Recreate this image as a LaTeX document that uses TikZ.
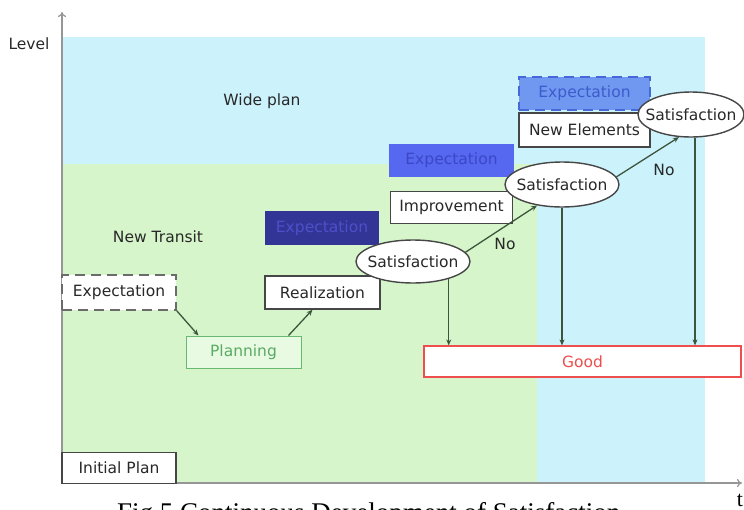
\documentclass[tikz,border=0pt]{standalone}
\usepackage{fontspec}
\setmainfont{DejaVu Sans}
\newfontfamily\capfont{Liberation Serif}
\usetikzlibrary{shapes.geometric,arrows.meta}

\definecolor{wideblue}{RGB}{204,242,252}
\definecolor{transgreen}{RGB}{214,245,202}
\definecolor{txtgray}{RGB}{40,40,40}
\definecolor{boxgray}{RGB}{70,70,70}
\definecolor{axisgray}{RGB}{150,150,150}
\definecolor{linkgreen}{RGB}{60,85,60}
\definecolor{navyfill}{RGB}{50,52,150}
\definecolor{navytext}{RGB}{78,80,200}
\definecolor{bluefill}{RGB}{86,104,240}
\definecolor{bluetext}{RGB}{58,72,200}
\definecolor{skyfill}{RGB}{112,152,240}
\definecolor{skytext}{RGB}{60,92,205}
\definecolor{skyline}{RGB}{70,105,215}
\definecolor{planline}{RGB}{105,185,115}
\definecolor{plantext}{RGB}{90,170,100}
\definecolor{goodred}{RGB}{238,78,78}

\tikzset{
  lbl/.style={font=\fontsize{15.5}{18}\selectfont, text=txtgray},
  box/.style={lbl, draw=boxgray, fill=white, line width=1.4pt, inner sep=0pt},
  dashbox/.style={box, dash pattern=on 10pt off 6pt},
  satis/.style={lbl, ellipse, draw=boxgray, fill=white, line width=1.4pt,
    inner xsep=-12pt, inner ysep=4pt},
  link/.style={draw=linkgreen, line width=1.3pt, -{Stealth[length=6pt,width=5pt]}},
  axis/.style={draw=axisgray, line width=1.2pt, -{To[length=5pt,width=8pt]}}
}

\begin{document}
\begin{tikzpicture}[x=1pt, y=-1pt]
  \useasboundingbox (0,0) rectangle (744,509);
  % --- regions ---
  \fill[wideblue] (62,37) rectangle (705,483);
  \fill[transgreen] (62,164) rectangle (537,483);
  \node[lbl] (wide) at (262,101) {Wide plan};
  \node[lbl] (transit) at (158,237) {New Transit};
  % --- axes ---
  \coordinate (o) at (62,483);
  \coordinate (ytop) at (62,12);
  \coordinate (xend) at (742,483);
  \draw[axis] (o) -- (ytop);
  \draw[axis] (o) -- (xend);
  \node[lbl] (level) at (29,44) {Level};
  \node[font=\capfont\fontsize{22}{24}\selectfont, anchor=north, inner sep=0pt] (tlab) at (740,494) {t};
  % --- first step ---
  \node[dashbox, draw=boxgray!80, minimum width=114pt, minimum height=35pt] (exp0) at (119,292.5) {Expectation};
  \node[box, draw=planline, fill=transgreen!55!white, text=plantext, line width=1pt,
    minimum width=115pt, minimum height=32pt] (plan) at (243.5,352) {Planning};
  \node[box, minimum width=115pt, minimum height=33pt] (real) at (322.5,292.5) {Realization};
  \draw[link] (exp0.south east) -- ([xshift=13pt]plan.north west);
  \draw[link] ([xshift=-13pt]plan.north east) -- ([xshift=-10pt]real.south);
  % --- satisfaction steps ---
  \node[box, draw=navyfill, fill=navyfill, text=navytext, minimum width=113pt, minimum height=32pt] (exp1) at (322,228) {Expectation};
  \node[satis, minimum width=114pt, minimum height=43pt] (sat1) at (413,261.5) {Satisfaction};
  \node[box, minimum width=122pt, minimum height=32pt] (impr) at (451.5,207.5) {Improvement};
  \node[box, draw=bluefill, fill=bluefill, text=bluetext, minimum width=123pt, minimum height=31pt] (exp2) at (451.5,160.5) {Expectation};
  \node[satis, minimum width=114pt, minimum height=45pt] (sat2) at (562,184.5) {Satisfaction};
  \node[box, minimum width=131pt, minimum height=34pt] (newel) at (584.5,130) {New Elements};
  \node[dashbox, draw=skyline, fill=skyfill, text=skytext, minimum width=131pt, minimum height=33pt] (exp3) at (584.5,93.5) {Expectation};
  \node[satis, minimum width=106pt, minimum height=45pt] (sat3) at (691,114.5) {Satisfaction};
  \draw[link] (sat1.10) -- (sat2.220);
  \draw[link] (sat2.8) -- (sat3.242);
  \node[lbl] (no1) at (505,244) {No};
  \node[lbl] (no2) at (664,170) {No};
  % --- result ---
  \node[box, draw=goodred, text=goodred, line width=1.2pt, minimum width=317pt, minimum height=31pt] (good) at (582.5,361.5) {Good};
  \draw[link] (sat1.-26) -- (sat1.-26 |- good.north);
  \draw[link] (sat2.south) -- (sat2.south |- good.north);
  \draw[link] ([xshift=4pt]sat3.south) -- ([xshift=4pt]sat3.south |- good.north);
  \node[box, minimum width=114pt, minimum height=31pt] (init) at (119,468) {Initial Plan};
  % --- caption ---
  \node[font=\capfont\fontsize{27}{30}\selectfont, anchor=north west, inner sep=0pt] (caption) at (117,502) {Fig.5 Continuous Development of Satisfaction};
\end{tikzpicture}
\end{document}
